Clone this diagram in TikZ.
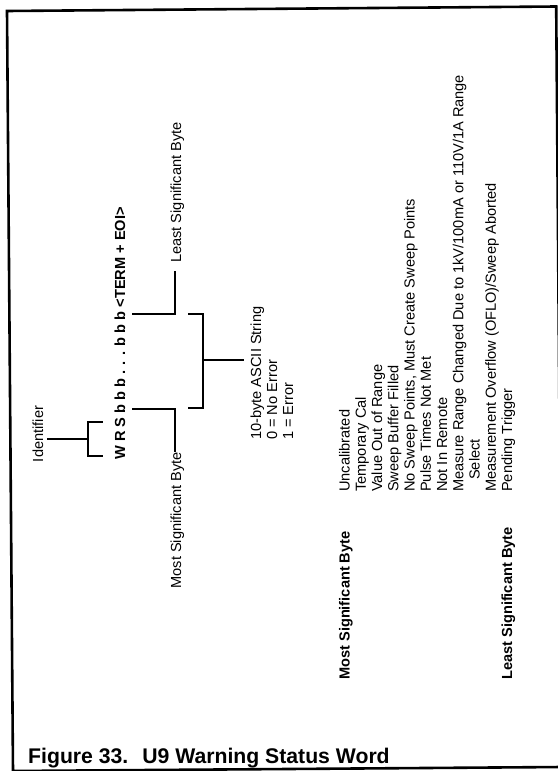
\documentclass[tikz,border=0pt]{standalone}
\usepackage{fontspec}
\setmainfont{Liberation Sans}
\begin{document}
\begin{tikzpicture}[x=1pt,y=-1pt,
  lbl/.style={rotate=90, inner sep=0pt, font=\fontsize{14.6}{16.3}\selectfont},
  blbl/.style={rotate=90, inner sep=0pt, font=\fontsize{14.6}{16.3}\selectfont\bfseries},
  wire/.style={line width=1.7pt, line cap=rect},
  framestyle/.style={line width=2.6pt, line join=miter}]
\useasboundingbox (0,0) rectangle (557,771);
% frame (scan is slightly tilted; right side runs off the page)
\coordinate (f1) at (7,11);
\coordinate (f2) at (556.2,6.5);
\coordinate (f3) at (562.2,767);
\coordinate (f4) at (13,771);
\draw[framestyle] (f1) -- (f2) -- (f3) -- (f4) -- cycle;

% identifier and word
\node[lbl, anchor=base] (ident) at (43,434) {Identifier};
\node[blbl, anchor=base west] (wrs) at (125,460) {W R S b b b . . . b b b <TERM + EOI>};

% identifier bracket
\coordinate (idA) at (48,439);
\coordinate (idB) at (88,439);
\coordinate (brT) at (88,422);
\coordinate (brB) at (88,456);
\coordinate (brTe) at (102,422);
\coordinate (brBe) at (102,456);
\draw[wire] (idA) -- (idB);
\draw[wire] (brTe) -- (brT) -- (brB) -- (brBe);

% MSB / LSB labels
\node[lbl, anchor=base east] (msb) at (181,452) {Most Significant Byte};
\node[lbl, anchor=base west] (lsb) at (181,263) {Least Significant Byte};
\coordinate (m1) at (133,409);
\coordinate (m2) at (175,409);
\coordinate (m3) at (175,451);
\draw[wire] (m1) -- (m2) -- (m3);
\coordinate (l1) at (133,314);
\coordinate (l2) at (175,314);
\coordinate (l3) at (175,272);
\draw[wire] (l1) -- (l2) -- (l3);

% big bracket
\coordinate (g1) at (189,314);
\coordinate (g2) at (203,314);
\coordinate (g3) at (203,408);
\coordinate (g4) at (189,408);
\coordinate (gm) at (203,360);
\coordinate (gt) at (243,360);
\draw[wire] (g1) -- (g2) -- (g3) -- (g4);
\draw[wire] (gm) -- (gt);

% ASCII description
\node[lbl, anchor=base west] (asc1) at (261,440) {10-byte ASCII String};
\node[lbl, anchor=base west] (asc2) at (277,440) {0 = No Error};
\node[lbl, anchor=base west] (asc3) at (293,440) {1 = Error};

% bit list
\node[blbl, anchor=base west] (hm) at (349.5,680) {Most Significant Byte};
\node[blbl, anchor=base west] (hl) at (512,680) {Least Significant Byte};
\foreach \k/\t/\ind in {0/{Uncalibrated}/0,1/{Temporary Cal}/0,2/{Value Out of Range}/0,3/{Sweep Buffer Filled}/0,4/{No Sweep Points, Must Create Sweep Points}/0,5/{Pulse Times Not Met}/0,6/{Not In Remote}/0,7/{Measure Range Changed Due to 1kV/100mA or 110V/1A Range}/0,8/{Select}/12,9/{Measurement Overflow (OFLO)/Sweep Aborted}/0,10/{Pending Trigger}/0}
  \node[lbl, anchor=base west] (it\k) at (349.5+16.25*\k, 492-\ind) {\t};

% caption
\node[inner sep=0pt, anchor=base west, font=\fontsize{21.2}{24}\selectfont\bfseries] (cap) at (28,763) {Figure 33.\hspace{14pt}U9 Warning Status Word};
\end{tikzpicture}
\end{document}
